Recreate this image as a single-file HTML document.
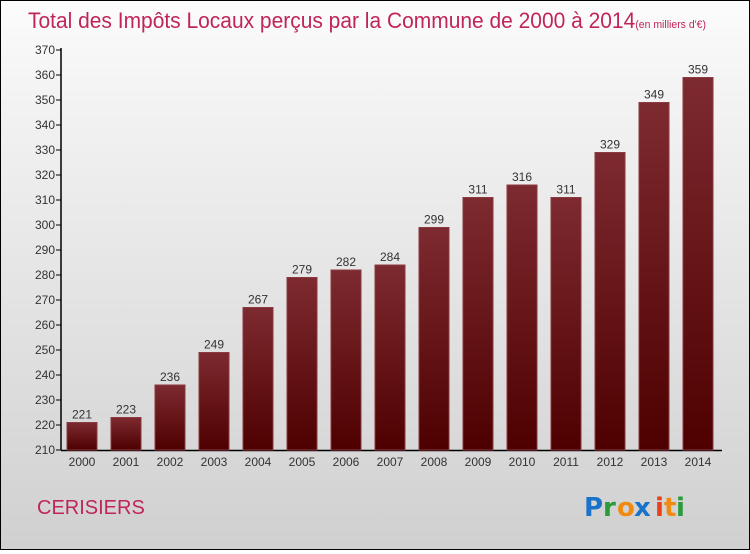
<!DOCTYPE html>
<html><head><meta charset="utf-8"><style>
html,body{margin:0;padding:0}
body{width:750px;height:550px;overflow:hidden;font-family:"Liberation Sans",sans-serif}
#wrap{position:relative;width:748px;height:548px;border:1px solid #000;background:linear-gradient(#fcfcfc,#f4f4f4 15%,#d0d0d0 100%)}
</style></head><body>
<div id="wrap">
<svg width="748" height="548" viewBox="1 1 748 548" xmlns="http://www.w3.org/2000/svg">
<defs><linearGradient id="bg" x1="0" y1="0" x2="0" y2="1"><stop offset="0" stop-color="#7d2a30"/><stop offset="1" stop-color="#4e0000"/></linearGradient></defs>
<text x="28" y="28" font-size="22" fill="#c0255a" font-weight="300" textLength="678" lengthAdjust="spacingAndGlyphs">Total des Impôts Locaux perçus par la Commune de 2000 à 2014<tspan font-size="11">(en milliers d'€)</tspan></text>
<g id="axes"></g>
<g id="bars"></g>
<text x="37" y="514" font-size="20" fill="#c0255a">CERISIERS</text>
<g font-family="'DejaVu Sans',sans-serif" font-size="26" font-weight="bold">
<text x="584" y="516" fill="#1a73c8">P</text><text x="603" y="516" fill="#2a9a3a">r</text><text x="617" y="516" fill="#f08a10">o</text><text x="634" y="516" fill="#1a73c8">x</text><text x="655" y="516" fill="#e8401a">i</text><text x="664" y="516" fill="#f08a10">t</text><text x="676" y="516" fill="#2a9a3a">i</text>
</g>
</svg></div>
<script>
const years=["2000","2001","2002","2003","2004","2005","2006","2007","2008","2009","2010","2011","2012","2013","2014"];
const values=[221,223,236,249,267,279,282,284,299,311,316,311,329,349,359];
const ticks=[210,220,230,240,250,260,270,280,290,300,310,320,330,340,350,360,370];
const NS="http://www.w3.org/2000/svg";
const y=v=>450-(v-210)*2.5;
const x=i=>82+i*44;
const ax=document.getElementById('axes'),bg=document.getElementById('bars');
function mk(t,a,p){const e=document.createElementNS(NS,t);for(const k in a)e.setAttribute(k,a[k]);p.appendChild(e);return e;}
ticks.forEach(t=>{
 const l=mk('line',{x1:56,x2:61,y1:y(t),y2:y(t),stroke:'#000'},ax);
 
 
 const tx=mk('text',{x:55,y:y(t)+4,'text-anchor':'end','font-size':12,fill:'#333'},ax);tx.textContent=t;
 
 
});
values.forEach((v,i)=>{
 const r=mk('rect',{x:x(i)-15,y:y(v),width:30,height:450-y(v),fill:'url(#bg)',stroke:'#8a3a40','stroke-width':1},bg);
 
 
 const vt=mk('text',{x:x(i),y:y(v)-4,'text-anchor':'middle','font-size':12,fill:'#333'},bg);vt.textContent=v;
 
 
 const xt=mk('text',{x:x(i),y:466,'text-anchor':'middle','font-size':12,fill:'#333'},ax);xt.textContent=years[i];
 
 
});
const ya=mk('line',{x1:61,x2:61,y1:48,y2:450.5,stroke:'#000','stroke-width':1.5},ax);


const xa=mk('line',{x1:61,x2:722,y1:450.5,y2:450.5,stroke:'#000','stroke-width':1.5},ax);


</script>
</body></html>
